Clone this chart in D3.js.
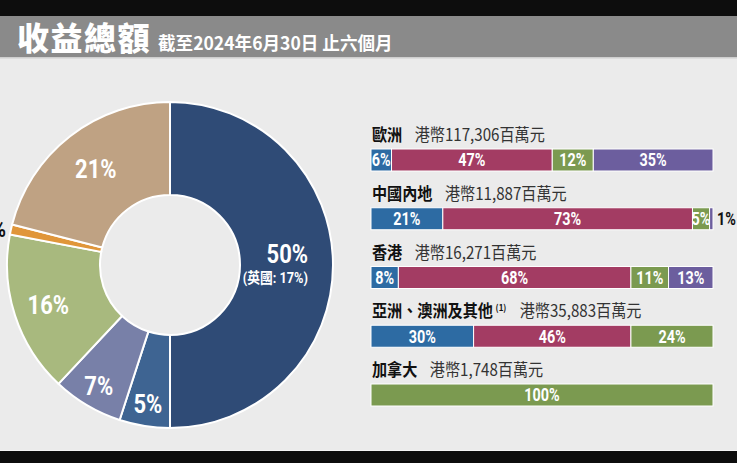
<!DOCTYPE html>
<html><head><meta charset="utf-8">
<script src="https://cdn.jsdelivr.net/npm/d3@7"></script>
<style>body{margin:0;background:#0d0d0d;}svg{display:block}</style>
</head><body>
<svg id="c" width="737" height="463"></svg>
<script>
// ---- data ----
const titleText = "收益總額";
const subtitleText = "截至2024年6月30日 止六個月";
const pieCategories = ["歐洲", "中國內地", "香港", "亞洲、澳洲及其他", "加拿大", "其他"];
const pieValues = [50, 5, 7, 16, 1, 21];
const pieNote = "(英國: 17%)";
const regions = ["歐洲", "中國內地", "香港", "亞洲、澳洲及其他", "加拿大"];
const regionRevenue = ["港幣117,306百萬元", "港幣11,887百萬元", "港幣16,271百萬元", "港幣35,883百萬元", "港幣1,748百萬元"];
const regionNotes = ["", "", "", "(1)", ""];
const segments = ["港口及相關服務", "零售", "基建", "電訊"];
const segPorts = [6, 21, 8, 30, 0];
const segRetail = [47, 73, 68, 46, 0];
const segInfra = [12, 5, 11, 24, 100];
const segTelecom = [35, 1, 13, 0, 0];

// ---- styles / layout ----
const pieColors = ["#2f4b76", "#3e6492", "#7880a8", "#a8b97e", "#e0963a", "#bfa283"];
const pieLabelRadius = [0, 141, 140, 128, 0, 121];
const segColors = ["#2d6ba3", "#a33c63", "#7b9a50", "#6c5e9e"];
const CJK = "'Noto Sans CJK TC','Noto Sans CJK SC',sans-serif";
const NUM = "Roboto,'Noto Sans CJK TC',sans-serif";

const svg = d3.select("#c");
const W = 737, H = 463;

// condensed text helper
function ctext(parent, x, y, sx) {
  return parent.append("g").attr("transform", `translate(${x},${y}) scale(${sx},1)`)
    .append("text").attr("x", 0).attr("y", 0);
}

// background
svg.append("rect").attr("width", W).attr("height", H).attr("fill", "#0d0d0d");
svg.append("rect").attr("x", 0).attr("y", 57).attr("width", W).attr("height", 393).attr("fill", "#ebebeb");
svg.append("rect").attr("x", 0).attr("y", 450).attr("width", W).attr("height", 1).attr("fill", "#f4f4f4");
svg.append("rect").attr("x", 0).attr("y", 16).attr("width", W).attr("height", 41).attr("fill", "#8a8a8a");
svg.append("rect").attr("x", 0).attr("y", 57).attr("width", W).attr("height", 1.5).attr("fill", "#cfcfcf");

// title
svg.append("text").attr("x", 17).attr("y", 50)
  .attr("font-family", CJK).attr("font-weight", 900).attr("font-size", 32)
  .attr("letter-spacing", 1.5).attr("fill", "#fff").text(titleText);
ctext(svg, 158, 50, 0.95)
  .attr("font-family", CJK).attr("font-weight", 700).attr("font-size", 18.5)
  .attr("fill", "#fff").text(subtitleText);

// ---- donut ----
const cx = 170, cy = 265, rOut = 163, rIn = 70;
const g = svg.append("g").attr("transform", `translate(${cx},${cy})`);
const pie = d3.pie().sort(null).value(d => d)(pieValues);
const arc = d3.arc().innerRadius(rIn).outerRadius(rOut);

g.selectAll("path.slice").data(pie).join("path")
  .attr("class", "slice")
  .attr("d", arc)
  .attr("fill", (d, i) => pieColors[i])
  .attr("stroke", "#ffffff").attr("stroke-width", 2);

pie.forEach((d, i) => {
  const lbl = d.value + "%";
  if (i === 0) {
    ctext(g, 138, -2, 0.88).attr("text-anchor", "end")
      .attr("font-family", NUM).attr("font-weight", 700).attr("font-size", 25)
      .attr("fill", "#fff").text(lbl);
    ctext(g, 138, 18, 0.85).attr("text-anchor", "end")
      .attr("font-family", NUM).attr("font-weight", 700).attr("font-size", 15)
      .attr("fill", "#fff").text(pieNote);
  } else if (d.value < 3) {
    const [lx, ly] = d3.arc().innerRadius(rOut).outerRadius(rOut).centroid(d);
    ctext(g, lx - 5, ly + 8, 0.85).attr("text-anchor", "end")
      .attr("font-family", NUM).attr("font-weight", 700).attr("font-size", 23)
      .attr("fill", "#111").text(lbl);
  } else {
    const r = pieLabelRadius[i];
    const [lx, ly] = d3.arc().innerRadius(r).outerRadius(r).centroid(d);
    ctext(g, lx, ly, 0.88).attr("dy", "0.36em").attr("text-anchor", "middle")
      .attr("font-family", NUM).attr("font-weight", 700).attr("font-size", 25)
      .attr("fill", "#fff").text(lbl);
  }
});

// ---- stacked bars ----
const rows = regions.map((r, i) => ({
  region: r,
  [segments[0]]: segPorts[i],
  [segments[1]]: segRetail[i],
  [segments[2]]: segInfra[i],
  [segments[3]]: segTelecom[i]
}));
const stack = d3.stack().keys(segments)(rows);
const x = d3.scaleLinear().domain([0, 100]).range([371, 713]);
const y = d3.scalePoint().domain(regions).range([149, 384]);
const barH = 22;

// row labels
regions.forEach((r, i) => {
  const t = ctext(svg, 372, y(r) - 8, 0.89)
    .attr("font-family", CJK).attr("font-size", 17).attr("fill", "#111");
  t.append("tspan").attr("font-weight", 700).text(r);
  if (regionNotes[i]) {
    t.append("tspan").attr("font-weight", 700).attr("font-size", 9).attr("dx", 3).attr("dy", -6)
      .text(regionNotes[i]);
    t.append("tspan").attr("dx", 15).attr("dy", 6).attr("fill", "#333")
      .text(regionRevenue[i]);
  } else {
    t.append("tspan").attr("dx", 14).attr("fill", "#333")
      .text(regionRevenue[i]);
  }
});

stack.forEach((layer, k) => {
  layer.forEach((d, i) => {
    const v = d[1] - d[0];
    if (v <= 0) return;
    const r = regions[i];
    svg.append("rect")
      .attr("x", x(d[0])).attr("y", y(r))
      .attr("width", x(d[1]) - x(d[0])).attr("height", barH)
      .attr("fill", segColors[k]).attr("stroke", "#ffffff").attr("stroke-width", 1);
    if (v >= 3) {
      ctext(svg, (x(d[0]) + x(d[1])) / 2, y(r) + barH / 2, 0.8)
        .attr("dy", "0.36em").attr("text-anchor", "middle")
        .attr("font-family", NUM).attr("font-weight", 700).attr("font-size", 18)
        .attr("fill", "#fff").text(v + "%");
    } else {
      ctext(svg, x(d[1]) + 4, y(r) + barH / 2, 0.8)
        .attr("dy", "0.36em").attr("text-anchor", "start")
        .attr("font-family", NUM).attr("font-weight", 700).attr("font-size", 18)
        .attr("fill", "#111").text(v + "%");
    }
  });
});
</script>
</body></html>
